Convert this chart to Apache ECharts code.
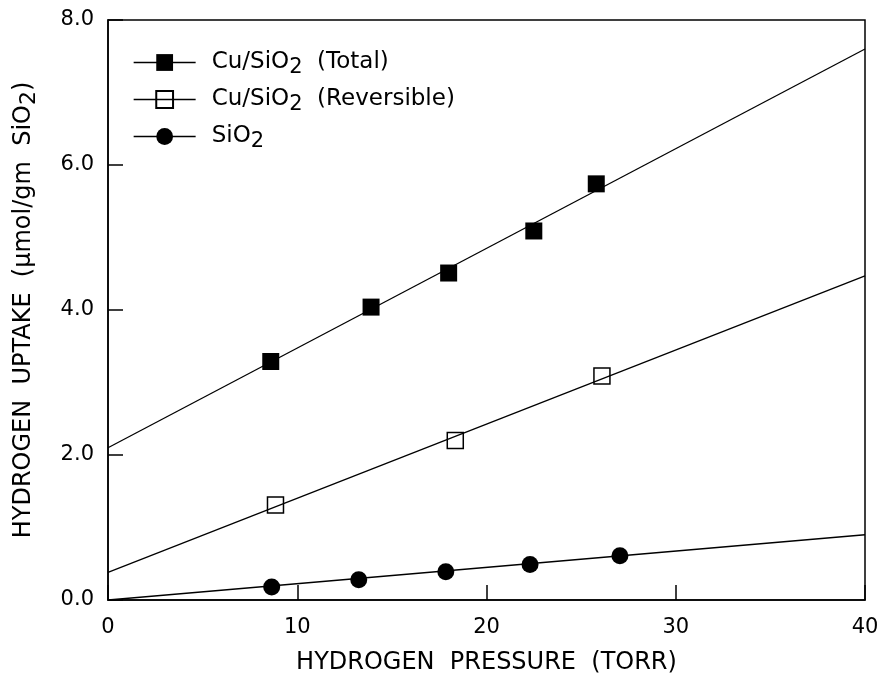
<!DOCTYPE html>
<html>
<head>
<meta charset="utf-8">
<script src="https://cdn.jsdelivr.net/npm/echarts@6/dist/echarts.min.js"></script>
<style>
html,body{margin:0;padding:0;background:#fff;}
#chart{width:882px;height:673px;}
</style>
</head>
<body>
<div id="chart"></div>
<script>
// ---- data ----
var seriesNames = ['Cu/SiO2 (Total)', 'Cu/SiO2 (Reversible)', 'SiO2'];

var xTotal = [8.6, 13.9, 18.0, 22.5, 25.8];
var yTotal = [3.29, 4.04, 4.51, 5.09, 5.74];

var xRev = [8.85, 18.35, 26.1];
var yRev = [1.31, 2.20, 3.09];

var xSi = [8.65, 13.25, 17.85, 22.3, 27.05];
var ySi = [0.18, 0.28, 0.39, 0.49, 0.61];

// fitted straight lines: values at the two ends of the x range
var fitX = [0, 40];
var fitTotal = [2.1, 7.6];
var fitRev = [0.38, 4.47];
var fitSi = [0.0, 0.9];

var xTicks = [0, 10, 20, 30, 40];
var yTicks = [0.0, 2.0, 4.0, 6.0, 8.0];

var xTitle = 'HYDROGEN  PRESSURE  (TORR)';
var yTitle = 'HYDROGEN  UPTAKE  (\u03bcmol/gm  SiO{sub|2})';

// ---- build ----
function pairs(xs, ys) { return xs.map(function (x, i) { return [x, ys[i]]; }); }

var FONT = 'DejaVu Sans';
var subStyle = { fontFamily: FONT, fontSize: 21, lineHeight: 20, padding: [10, 0, 0, 0], color: '#000' };

var chart = echarts.init(document.getElementById('chart'), null, { renderer: 'canvas' });

var pointBase = {
  type: 'line',
  lineStyle: { opacity: 0, width: 0 },
  emphasis: { disabled: true },
  silent: true,
  z: 3
};

var fitBase = {
  type: 'line',
  symbol: 'none',
  lineStyle: { color: '#000', width: 1.3 },
  emphasis: { disabled: true },
  silent: true,
  z: 4
};

var option = {
  animation: false,
  backgroundColor: '#fff',
  textStyle: { fontFamily: FONT, color: '#000' },
  grid: {
    left: 108, right: 17, top: 20, bottom: 73,
    containLabel: false,
    outerBoundsMode: 'none',
    show: true, borderColor: '#000', borderWidth: 1.5, backgroundColor: 'transparent'
  },
  legend: {
    data: seriesNames,
    orient: 'vertical',
    left: 133,
    top: 47,
    padding: 0,
    itemWidth: 62,
    itemHeight: 21,
    itemGap: 6,
    selectedMode: false,
    lineStyle: { color: '#000', width: 1.3, opacity: 1 },
    formatter: function (name) {
      return name.replace(' ', '  ').replace('SiO2', 'SiO{sub|2}');
    },
    textStyle: {
      fontFamily: FONT, fontSize: 23, lineHeight: 30, color: '#000',
      padding: [0, 0, 0, 11],
      rich: { sub: subStyle }
    }
  },
  xAxis: {
    type: 'value',
    min: xTicks[0], max: xTicks[xTicks.length - 1], interval: 10,
    name: xTitle,
    nameLocation: 'middle',
    nameGap: 48,
    nameMoveOverlap: false,
    nameTextStyle: { fontFamily: FONT, fontSize: 24, lineHeight: 30, color: '#000' },
    axisLine: { show: true, lineStyle: { color: '#000', width: 1.5 } },
    axisTick: { show: true, inside: true, length: 15, lineStyle: { color: '#000', width: 1.5 } },
    axisLabel: { margin: 17, fontFamily: FONT, fontSize: 21, color: '#000' },
    splitLine: { show: false }
  },
  yAxis: {
    type: 'value',
    min: yTicks[0], max: yTicks[yTicks.length - 1], interval: 2,
    name: yTitle,
    nameLocation: 'middle',
    nameGap: 69,
    nameMoveOverlap: false,
    nameTextStyle: {
      fontFamily: FONT, fontSize: 24, lineHeight: 30, color: '#000',
      rich: { sub: { fontFamily: FONT, fontSize: 22, lineHeight: 20, padding: [10, 0, 0, 0], color: '#000' } }
    },
    axisLine: { show: true, lineStyle: { color: '#000', width: 1.5 } },
    axisTick: { show: true, inside: true, length: 15, lineStyle: { color: '#000', width: 1.5 } },
    axisLabel: {
      margin: 14, fontFamily: FONT, fontSize: 21, color: '#000',
      formatter: function (v) { return v.toFixed(1); }
    },
    splitLine: { show: false }
  },
  series: [
    Object.assign({}, pointBase, {
      name: seriesNames[0],
      data: pairs(xTotal, yTotal),
      symbol: 'rect', symbolSize: 17,
      itemStyle: { color: '#000' }
    }),
    Object.assign({}, pointBase, {
      name: seriesNames[1],
      data: pairs(xRev, yRev),
      symbol: 'rect', symbolSize: 16,
      itemStyle: { color: 'rgba(255,255,255,0)', borderColor: '#000', borderWidth: 1.5 }
    }),
    Object.assign({}, pointBase, {
      name: seriesNames[2],
      data: pairs(xSi, ySi),
      symbol: 'circle', symbolSize: 17,
      itemStyle: { color: '#000' }
    }),
    Object.assign({}, fitBase, { name: 'fitTotal', data: pairs(fitX, fitTotal) }),
    Object.assign({}, fitBase, { name: 'fitRev', data: pairs(fitX, fitRev) }),
    Object.assign({}, fitBase, { name: 'fitSi', data: pairs(fitX, fitSi) })
  ]
};

chart.setOption(option);
</script>
</body>
</html>
